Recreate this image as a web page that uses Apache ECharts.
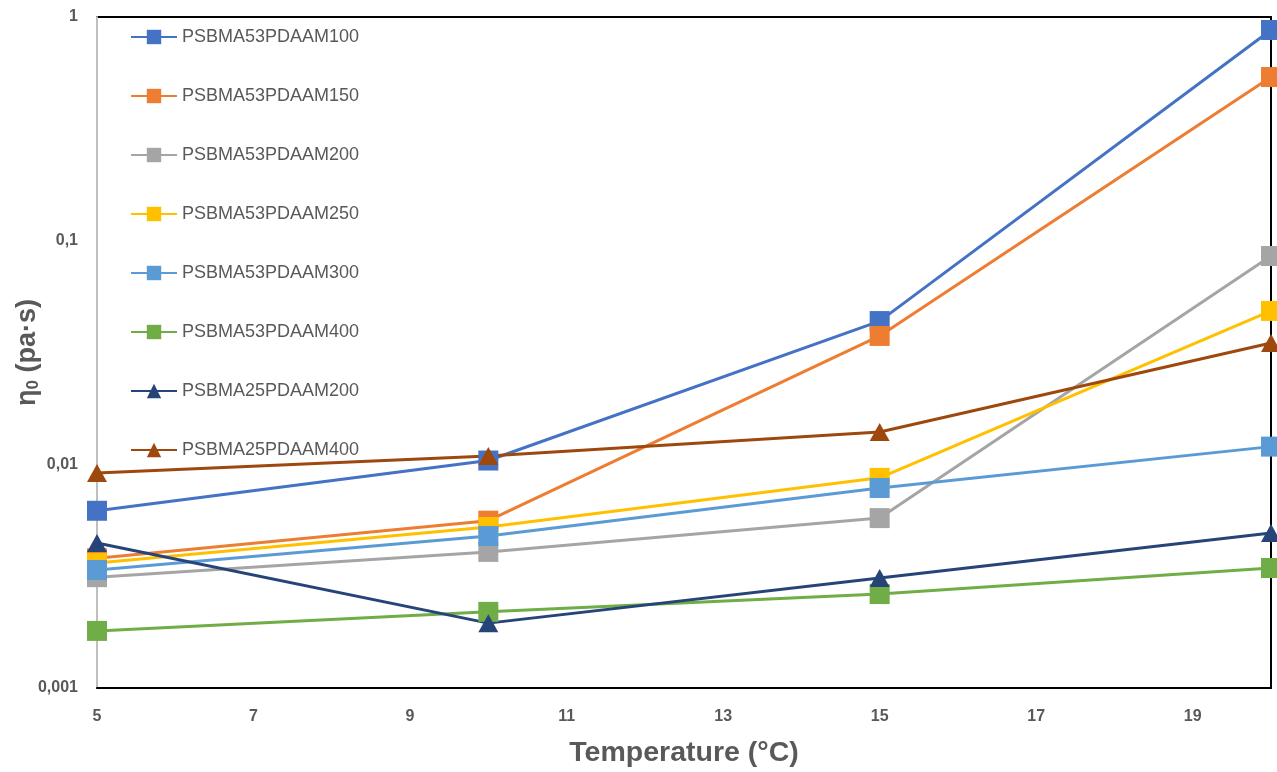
<!DOCTYPE html>
<html>
<head>
<meta charset="utf-8">
<script src="https://cdn.jsdelivr.net/npm/echarts@6/dist/echarts.min.js"></script>
<style>
  html, body { margin: 0; padding: 0; background: #fff; }
  #chart { width: 1277px; height: 772px; }
</style>
</head>
<body>
<div id="chart"></div>
<script>
// Temperature (°C) at which zero-shear viscosity was measured
const temperatures = [5, 10, 15, 20];

// Series names
const seriesNames = [
  'PSBMA53PDAAM100', 'PSBMA53PDAAM150', 'PSBMA53PDAAM200', 'PSBMA53PDAAM250',
  'PSBMA53PDAAM300', 'PSBMA53PDAAM400', 'PSBMA25PDAAM200', 'PSBMA25PDAAM400'
];

// Zero-shear viscosity η0 (Pa·s)
const pdaam100_53 = [0.0062, 0.0104, 0.0437, 0.875];
const pdaam150_53 = [0.0038, 0.0056, 0.0375, 0.539];
const pdaam200_53 = [0.00313, 0.00406, 0.00575, 0.0854];
const pdaam250_53 = [0.00362, 0.00525, 0.0087, 0.0485];
const pdaam300_53 = [0.00337, 0.00478, 0.00784, 0.0120];
const pdaam400_53 = [0.0018, 0.00219, 0.00263, 0.00344];
const pdaam200_25 = [0.00445, 0.00195, 0.0031, 0.00493];
const pdaam400_25 = [0.00915, 0.0109, 0.01395, 0.0349];

const seriesValues = [pdaam100_53, pdaam150_53, pdaam200_53, pdaam250_53,
                      pdaam300_53, pdaam400_53, pdaam200_25, pdaam400_25];
const seriesColors = ['#4472C4', '#ED7D31', '#A5A5A5', '#FFC000',
                      '#5B9BD5', '#70AD47', '#264478', '#9E480E'];
const seriesSymbols = ['rect', 'rect', 'rect', 'rect', 'rect', 'rect', 'triangle', 'triangle'];

const textGrey = '#595959';
const fontFamily = '"Liberation Sans", Arial, sans-serif';

const series = seriesNames.map((name, i) => ({
  name: name,
  type: 'line',
  data: temperatures.map((t, j) => [t, seriesValues[i][j]]),
  symbol: seriesSymbols[i],
  symbolSize: seriesSymbols[i] === 'triangle' ? [20, 18] : 20,
  showAllSymbol: true,
  clip: false,
  lineStyle: { color: seriesColors[i], width: 3 },
  itemStyle: { color: seriesColors[i] },
  emphasis: { disabled: true },
  z: 3
}));

const chart = echarts.init(document.getElementById('chart'), null, { renderer: 'canvas' });
chart.setOption({
  animation: false,
  backgroundColor: '#ffffff',
  textStyle: { fontFamily: fontFamily },
  grid: {
    left: 97, right: 6, top: 17, bottom: 84,
    outerBoundsMode: 'none',
    containLabel: false,
    show: true, borderColor: '#000000', borderWidth: 2, backgroundColor: 'transparent'
  },
  legend: {
    orient: 'vertical',
    left: 130,
    top: 28,
    padding: 0,
    itemWidth: 46,
    itemHeight: 18,
    itemGap: 41,
    textStyle: { color: textGrey, fontSize: 18, fontFamily: fontFamily },
    data: seriesNames
  },
  xAxis: {
    type: 'value',
    min: 5,
    max: 20,
    interval: 1,
    name: 'Temperature (°C)',
    nameLocation: 'middle',
    nameGap: 51,
    nameMoveOverlap: false,
    nameTextStyle: { color: textGrey, fontSize: 28.5, fontWeight: 'bold', fontFamily: fontFamily },
    axisLine: { show: true, onZero: false, lineStyle: { color: '#000000', width: 2 } },
    axisTick: { show: false },
    splitLine: { show: false },
    axisLabel: {
      color: textGrey, fontSize: 16, fontWeight: 'bold', margin: 21,
      showMaxLabel: false,
      formatter: v => ((v - 5) % 2 === 0 && v < 20) ? String(v) : ''
    }
  },
  yAxis: {
    type: 'log',
    logBase: 10,
    min: 0.001,
    max: 1,
    name: '{eta|η}{sub|0}{eta| (pa·s)}',
    nameLocation: 'middle',
    nameGap: 55,
    nameRotate: 90,
    nameMoveOverlap: false,
    nameTextStyle: {
      color: textGrey, fontSize: 27, fontWeight: 'bold', fontFamily: fontFamily,
      rich: {
        eta: { color: textGrey, fontSize: 27, fontWeight: 'bold', fontFamily: fontFamily },
        sub: { color: textGrey, fontSize: 17, fontWeight: 'bold', fontFamily: fontFamily, verticalAlign: 'bottom', padding: [12, 0, 0, 0] }
      }
    },
    axisLine: { show: true, onZero: false, lineStyle: { color: '#BFBFBF', width: 2 } },
    axisTick: { show: false },
    splitLine: { show: false },
    axisLabel: {
      color: textGrey, fontSize: 16, fontWeight: 'bold', margin: 19,
      formatter: v => String(Number(v.toPrecision(1))).replace('.', ',')
    }
  },
  series: series
});
</script>
</body>
</html>
